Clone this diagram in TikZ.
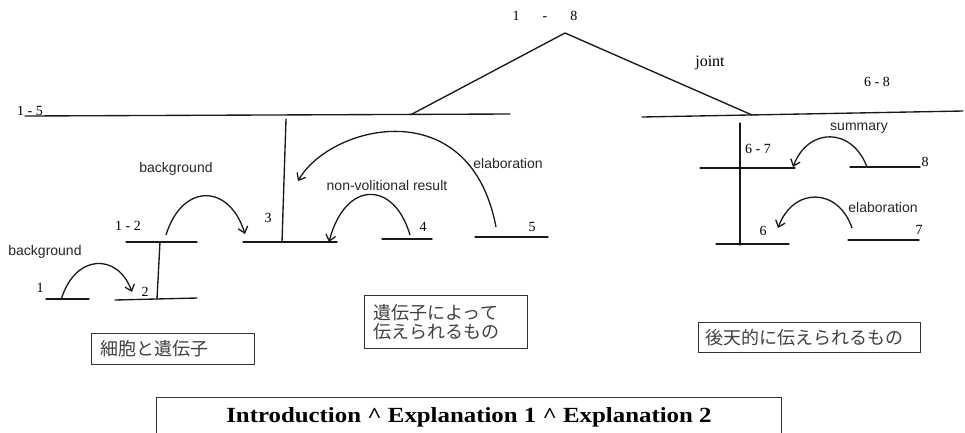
\documentclass[tikz,border=0pt]{standalone}
\usepackage{fontspec}
\setmainfont{Liberation Serif}
\setsansfont{Liberation Sans}
\newfontfamily\jpfont{Noto Sans CJK JP}
\usetikzlibrary{arrows.meta}

\begin{document}
\begin{tikzpicture}[x=1pt,y=-1pt,
  seg/.style={line width=1.35pt, line cap=round, draw=black!90},
  rel/.style={line width=1.3pt, draw=black!90,-{Straight Barb[length=6pt,width=10pt,line width=1.3pt]}},
  num/.style={font=\fontsize{14}{16}\selectfont, inner sep=0pt},
  lab/.style={font=\sffamily\fontsize{14}{16}\selectfont, inner sep=0pt, text=black!85},
  jbox/.style={draw=black!80, line width=0.9pt, anchor=north west, align=left, text=black!75,
    font=\jpfont\fontsize{18}{19}\selectfont, inner ysep=0pt}
]
\useasboundingbox (0,0) rectangle (965,432);
\clip (0,0) rectangle (965,432);

% ---- top level
\coordinate (apex) at (565,33);
\coordinate (a15L) at (25,116);
\coordinate (a15R) at (510,114);
\coordinate (j15) at (411,114.6);
\coordinate (a68L) at (642,117);
\coordinate (a68R) at (963,111);
\coordinate (j68) at (752,115);
\draw[seg] (a15L) -- (a15R);
\draw[seg] (a68L) -- (a68R);
\draw[seg] (j15) -- (apex) -- (j68);

\node[num] (t18) at (545,16) {1\hspace{23pt}-\hspace{23pt}8};
\node[num, font=\fontsize{16}{18}\selectfont] (tjoint) at (710,63) {joint};
\node[num] (t68) at (877,82) {6 - 8};
\node[num, anchor=base west] (t15) at (17,115.5) {1 - 5};

% ---- left subtree
\coordinate (v3T) at (286,119);
\coordinate (v3B) at (282,242);
\coordinate (l3L) at (243,242);
\coordinate (l3R) at (337,242);
\draw[seg] (v3T) -- (v3B);
\draw[seg] (l3L) -- (l3R);
\node[num] (t3) at (268,218) {3};

\coordinate (l12L) at (126,242);
\coordinate (l12R) at (197,242);
\coordinate (v12T) at (160,242);
\coordinate (v12B) at (157,299);
\draw[seg] (l12L) -- (l12R);
\draw[seg] (v12T) -- (v12B);
\node[num] (t12) at (128,226) {1 - 2};

\coordinate (l2L) at (115,300);
\coordinate (l2R) at (197,298);
\draw[seg] (l2L) -- (l2R);
\node[num] (t2) at (145,292) {2};

\coordinate (l1L) at (46,299);
\coordinate (l1R) at (89,299);
\draw[seg] (l1L) -- (l1R);
\node[num] (t1) at (40,288) {1};

\coordinate (l4L) at (382,239);
\coordinate (l4R) at (432,239);
\draw[seg] (l4L) -- (l4R);
\node[num] (t4) at (423,227) {4};

\coordinate (l5L) at (475,237);
\coordinate (l5R) at (548,237);
\draw[seg] (l5L) -- (l5R);
\node[num] (t5) at (532,227) {5};

% relation arcs (left)
\coordinate (s1) at (61,300);
\coordinate (e1) at (132,292);
\draw[rel] (s1) .. controls (75,253) and (118,253) .. (e1);
\node[lab] (bg1) at (45,252) {background};

\coordinate (s12) at (166,235);
\coordinate (e12) at (245,234);
\draw[rel] (s12) .. controls (182,183) and (229,183) .. (e12);
\node[lab] (bg2) at (176,169) {background};

\coordinate (s4) at (410,235);
\coordinate (e4) at (329,242);
\draw[rel] (s4) .. controls (394,180) and (345,180) .. (e4);
\node[lab] (nvr) at (387,185) {non-volitional result};

\coordinate (s5) at (496,227);
\coordinate (e5) at (298,181);
\draw[rel] (s5) .. controls (470,90) and (330,125) .. (e5);
\node[lab] (elab1) at (508,163) {elaboration};

% ---- right subtree
\coordinate (v67T) at (740,123);
\coordinate (v67B) at (740,245);
\draw[seg] (v67T) -- (v67B);
\coordinate (l67L) at (700,168);
\coordinate (l67R) at (795,168);
\draw[seg] (l67L) -- (l67R);
\node[num] (t67) at (758,149) {6 - 7};

\coordinate (l8L) at (850,167);
\coordinate (l8R) at (920,167);
\draw[seg] (l8L) -- (l8R);
\node[num] (t8) at (925,162) {8};

\coordinate (l6L) at (716,244);
\coordinate (l6R) at (789,244);
\draw[seg] (l6L) -- (l6R);
\node[num] (t6) at (763,231) {6};

\coordinate (l7L) at (848,240);
\coordinate (l7R) at (919,240);
\draw[seg] (l7L) -- (l7R);
\node[num] (t7) at (919,230) {7};

\coordinate (s8) at (867,167);
\coordinate (e8) at (793,167);
\draw[rel] (s8) .. controls (852,127) and (808,127) .. (e8);
\node[lab] (summ) at (859,128) {summary};

\coordinate (s7) at (852,228);
\coordinate (e7) at (778,228);
\draw[rel] (s7) .. controls (838,187) and (793,187) .. (e7);
\node[lab] (elab2) at (883,207) {elaboration};

% ---- boxes
\node[jbox, inner xsep=9pt, text width=145pt, minimum height=31pt] (b1) at (91,333) {細胞と遺伝子};
\node[jbox, inner xsep=9pt, text width=145pt, minimum height=53pt] (b2) at (364,295) {遺伝子によって\\伝えられるもの};
\node[jbox, inner xsep=7pt, text width=208pt, minimum height=30pt] (b3) at (698,322) {後天的に伝えられるもの};

\node[draw=black!80, line width=0.9pt, anchor=north west, minimum width=625pt, minimum height=39pt, inner sep=0pt,
  font=\bfseries\fontsize{21.6}{24}\selectfont] (b4) at (156,397)
  {\raisebox{-1pt}{\scalebox{1.15}[1]{Introduction \textasciicircum{} Explanation 1 \textasciicircum{} Explanation 2}}};
\end{tikzpicture}
\end{document}
